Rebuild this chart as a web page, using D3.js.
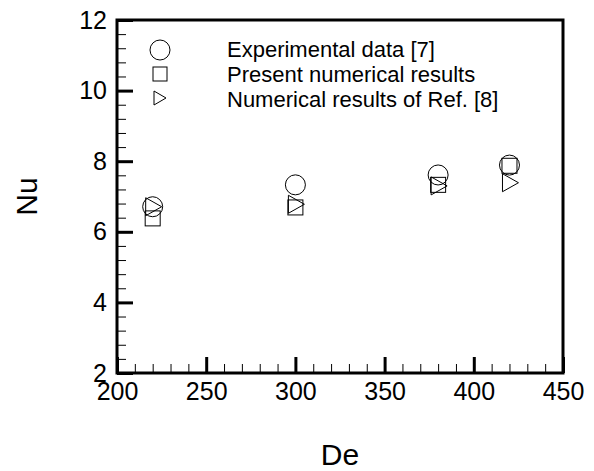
<!DOCTYPE html>
<html><head><meta charset="utf-8">
<script src="https://cdn.jsdelivr.net/npm/d3@7"></script>
<style>
body{margin:0;background:#fff;}
svg{display:block;font-family:"Liberation Sans",Arial,Helvetica,sans-serif;}
</style></head>
<body>
<svg id="chart" width="594" height="471"></svg>
<script>
const deValues = [220, 300, 380, 420];
const experimental = [6.71, 7.33, 7.61, 7.89];
const present = [6.38, 6.69, 7.33, 7.87];
const refNumerical = [6.71, 6.78, 7.30, 7.39];
const xMajorTicks = [200, 250, 300, 350, 400, 450];
const yMajorTicks = [2, 4, 6, 8, 10, 12];
const xMinorTicks = d3.range(200, 451, 10).filter(v => v % 50 !== 0);
const yMinorTicks = d3.range(0, 26).map(i => +(2 + i * 0.4).toFixed(1)).filter(v => v <= 12 && Math.abs(v % 2) > 0.01);
const legendLabels = ["Experimental data [7]", "Present numerical results", "Numerical results of Ref. [8]"];

const svg = d3.select("#chart");
const L = 117, R = 563, T = 20, B = 373;
const x = d3.scaleLinear().domain([200, 450]).range([L, R]);
const y = d3.scaleLinear().domain([2, 12]).range([B, T]);

// minor ticks
svg.append("g").attr("transform", `translate(0,${B})`)
  .call(d3.axisBottom(x).tickValues(xMinorTicks).tickSize(-9).tickSizeOuter(0).tickFormat(""))
  .call(g => g.select(".domain").remove())
  .call(g => g.selectAll("line").attr("stroke", "#000").attr("stroke-width", 1));
svg.append("g").attr("transform", `translate(${L},0)`)
  .call(d3.axisLeft(y).tickValues(yMinorTicks).tickSize(-9).tickSizeOuter(0).tickFormat(""))
  .call(g => g.select(".domain").remove())
  .call(g => g.selectAll("line").attr("stroke", "#000").attr("stroke-width", 1));

// major ticks
svg.append("g").attr("transform", `translate(0,${B})`)
  .call(d3.axisBottom(x).tickValues(xMajorTicks).tickSize(-16).tickSizeOuter(0).tickPadding(9).tickFormat(d3.format("d")))
  .call(g => g.select(".domain").remove())
  .call(g => g.selectAll("line").attr("stroke", "#000").attr("stroke-width", 3))
  .call(g => g.selectAll("text").attr("font-size", 25).attr("fill", "#000").attr("font-family", "Liberation Sans, Arial, sans-serif"));
svg.append("g").attr("transform", `translate(${L},0)`)
  .call(d3.axisLeft(y).tickValues(yMajorTicks).tickSize(-16).tickSizeOuter(0).tickPadding(10).tickFormat(d3.format("d")))
  .call(g => g.select(".domain").remove())
  .call(g => g.selectAll("line").attr("stroke", "#000").attr("stroke-width", 3))
  .call(g => g.selectAll("text").attr("font-size", 25).attr("fill", "#000").attr("font-family", "Liberation Sans, Arial, sans-serif"));

// frame
svg.append("rect").attr("x", L).attr("y", T).attr("width", R - L).attr("height", B - T)
  .attr("fill", "none").attr("stroke", "#000").attr("stroke-width", 3);

// axis titles
svg.append("text").attr("x", (L + R) / 2).attr("y", 465).attr("text-anchor", "middle")
  .attr("font-size", 30).text("De");
svg.append("text").attr("transform", `translate(37,${(T + B) / 2}) rotate(-90)`)
  .attr("text-anchor", "middle").attr("font-size", 30).text("Nu");

// marker drawers
function circle(g, cx, cy, r) {
  g.append("circle").attr("cx", cx).attr("cy", cy).attr("r", r)
    .attr("fill", "none").attr("stroke", "#000").attr("stroke-width", 1);
}
function square(g, cx, cy, s) {
  g.append("rect").attr("x", cx - s / 2).attr("y", cy - s / 2).attr("width", s).attr("height", s)
    .attr("fill", "none").attr("stroke", "#000").attr("stroke-width", 1);
}
function triangle(g, cx, cy, w, h) {
  g.append("path").attr("d", `M${cx - w / 2},${cy - h / 2}L${cx + w / 2},${cy}L${cx - w / 2},${cy + h / 2}Z`)
    .attr("fill", "none").attr("stroke", "#000").attr("stroke-width", 1);
}

const pts = svg.append("g");
deValues.forEach((d, i) => circle(pts, x(d), y(experimental[i]), 10));
deValues.forEach((d, i) => square(pts, x(d), y(present[i]), 15));
deValues.forEach((d, i) => triangle(pts, x(d) + 1, y(refNumerical[i]), 16, 18));

// legend
const lg = svg.append("g");
const markerY = [50, 74, 98];
const textY = [57, 82, 107];
circle(lg, 160, markerY[0], 10);
square(lg, 160, markerY[1], 14);
triangle(lg, 160, markerY[2], 12, 14);
legendLabels.forEach((t, i) => {
  lg.append("text").attr("x", 227).attr("y", textY[i]).attr("font-size", 22).text(t);
});
</script>
</body></html>
